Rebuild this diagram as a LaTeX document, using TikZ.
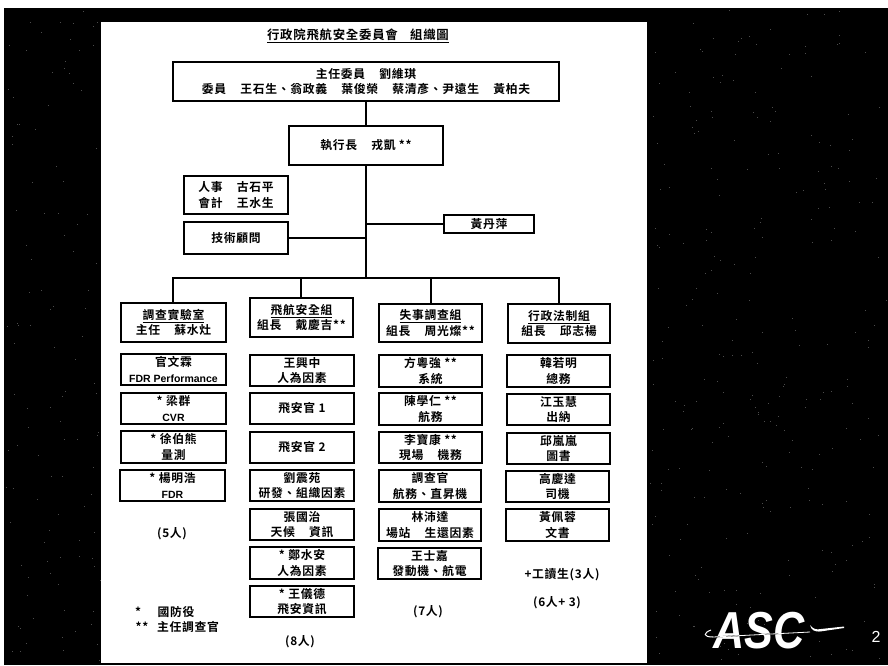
\documentclass[tikz,border=0pt]{standalone}
\usepackage{fontspec}
\setmainfont{Noto Sans CJK TC}[BoldFont={Noto Sans CJK TC Bold}]
\newfontfamily\cjkb[LetterSpace=6]{Noto Sans CJK TC Bold}
\newfontfamily\latinb{Liberation Sans}
\newfontfamily\latinbold{Liberation Sans Bold}
\newfontfamily\logofont{Liberation Sans Bold Italic}
\newcommand{\gp}{\hspace{1.2em}}
\tikzset{
  unit/.style={draw=black,line width=1.1pt,fill=white,align=center,inner sep=0pt,
    font=\fontsize{11.8}{15.4}\selectfont\cjkb},
  free/.style={inner sep=0pt,align=center,font=\fontsize{11.8}{15}\selectfont\cjkb},
  wire/.style={draw=black,line width=1.1pt},
  speck/.style={fill=gray!60!black}
}
\newcommand{\bx}[6]{\node[unit,minimum width={(#3-#1)*1pt},minimum height={(#4-#2)*1pt}] (#5) at ({(#1+#3)/2*1pt},{-(#2+#4)/2*1pt}) {#6};}
\newcommand{\tx}[4]{\node[free] (#1) at (#2pt,-#3pt) {#4};}
\newcommand{\lat}[1]{{\fontsize{10.5}{15.4}\selectfont\latinbold #1}}
\begin{document}
\begin{tikzpicture}[x=1pt,y=1pt]
\useasboundingbox (0,-665) rectangle (888,0);
\fill[white] (0,-665) rectangle (888,0);
\fill[black] (4,-665) rectangle (888,-8);
% scan speckle on the dark background
\pgfmathsetseed{41}
\foreach \i in {1,...,260}{
  \pgfmathsetmacro{\px}{650+236*rnd}
  \pgfmathsetmacro{\py}{10+652*rnd}
  \fill[speck] (\px,-\py) rectangle ++(1,1);
}
\foreach \i in {1,...,110}{
  \pgfmathsetmacro{\px}{5+95*rnd}
  \pgfmathsetmacro{\py}{10+652*rnd}
  \fill[speck] (\px,-\py) rectangle ++(1,1);
}
\fill[white] (101,-663) rectangle (647,-22);
% title
\node[free,font=\fontsize{12.4}{14}\selectfont\cjkb] (title) at (358,-36) {\underline{行政院飛航安全委員會\hspace{1em}組織圖}};
% top
\bx{173}{62}{559}{101}{top}{主任委員\gp 劉維琪\\委員\gp 王石生、翁政義\gp 葉俊榮\gp 蔡清彥、尹遠生\gp 黃柏夫}
\bx{289}{126}{443}{165}{exec}{執行長\gp 戎凱 **}
\bx{184}{176}{288}{214}{hr}{人事\gp 古石平\\會計\gp 王水生}
\bx{184}{222}{288}{254}{tech}{技術顧問}
\bx{444}{215}{534}{233}{huang}{黃丹萍}
\coordinate (jt) at (366,-238);
\coordinate (jh) at (366,-223);
\coordinate (bus) at (366,-278);
\draw[wire] (top.south -| jt) -- (exec.north -| jt);
\draw[wire] (exec.south -| jt) -- (bus);
\draw[wire] (tech.east) -- (tech.east -| jt);
\draw[wire] (huang.west) -- (huang.west -| jh);
% heads
\bx{121}{303}{226}{342}{h1}{\underline{調查實驗室}\\主任\gp 蘇水灶}
\bx{250}{298}{353}{337}{h2}{\underline{飛航安全組}\\組長\gp 戴慶吉**}
\bx{379}{304}{482}{342}{h3}{\underline{失事調查組}\\組長\gp 周光燦**}
\bx{508}{304}{610}{343}{h4}{\underline{行政法制組}\\組長\gp 邱志楊}
\coordinate (b1) at (173,-278);
\coordinate (b2) at (301,-278);
\coordinate (b3) at (431,-278);
\coordinate (b4) at (559,-278);
\draw[wire] (h1.north -| b1) -- (b1) -- (b4) -- (h4.north -| b4);
\draw[wire] (b2) -- (h2.north -| b2);
\draw[wire] (b3) -- (h3.north -| b3);
% col1
\bx{121}{354}{226}{385}{a1}{官文霖\\\lat{FDR Performance}}
\bx{121}{393}{226}{424}{a2}{* 梁群\\\lat{CVR}}
\bx{121}{431}{226}{463}{a3}{* 徐伯熊\\量測}
\bx{120}{470}{225}{501}{a4}{* 楊明浩\\\lat{FDR}}
% col2
\bx{250}{355}{354}{386}{c1}{王興中\\人為因素}
\bx{250}{393}{354}{424}{c2}{飛安官 1}
\bx{250}{432}{354}{463}{c3}{飛安官 2}
\bx{250}{470}{354}{501}{c4}{劉震苑\\研發、組織因素}
\bx{250}{509}{354}{540}{c5}{張國治\\天候\gp 資訊}
\bx{250}{547}{354}{579}{c6}{* 鄭水安\\人為因素}
\bx{250}{586}{354}{617}{c7}{* 王儀德\\飛安資訊}
% col3
\bx{379}{355}{482}{387}{d1}{方粵強 **\\系統}
\bx{379}{393}{482}{425}{d2}{陳學仁 **\\航務}
\bx{379}{432}{482}{463}{d3}{李寶康 **\\現場\gp 機務}
\bx{379}{470}{481}{502}{d4}{調查官\\航務、直昇機}
\bx{379}{509}{481}{541}{d5}{林沛達\\場站\gp 生還因素}
\bx{378}{548}{481}{579}{d6}{王士嘉\\發動機、航電}
% col4
\bx{507}{355}{610}{387}{e1}{韓若明\\總務}
\bx{507}{394}{610}{425}{e2}{江玉慧\\出納}
\bx{507}{433}{610}{464}{e3}{邱嵐嵐\\圖書}
\bx{506}{471}{609}{502}{e4}{高慶達\\司機}
\bx{506}{509}{609}{541}{e5}{黃佩蓉\\文書}
% free texts
\tx{n1}{172}{534}{(5人)}
\tx{n2}{300}{642}{(8人)}
\tx{n3}{428}{612}{(7人)}
\tx{n4}{562}{575}{+工讀生(3人)}
\tx{n5}{557}{603}{(6人+ 3)}
\tx{l1}{138}{612}{*}
\tx{l2}{176}{612}{國防役}
\tx{l3}{142}{627}{**}
\tx{l4}{188}{627}{主任調查官}
% logo
\node[inner sep=0pt,text=white,xscale=0.83,transform shape,font=\fontsize{52}{52}\selectfont\logofont] (logo) at (759,-631) {ASC};
\coordinate (sw1) at (713,-637);
\coordinate (sw2) at (810,-632);
\draw[black,line width=1pt] (sw1) -- (sw2);
\draw[white,line width=1pt] (711,-630) .. controls (703,-633) and (703,-637) .. (713,-637);
\draw[white,line width=0.8pt] (sw1) -- (sw2);
\fill[white] (810,-625) .. controls (813,-629) and (816,-630) .. (821,-629) -- (844,-626.5) -- (844,-628) -- (820,-631.5) .. controls (815,-632) and (811,-630) .. (810,-625) -- cycle;
\node[inner sep=0pt,text=white,font=\fontsize{16}{16}\selectfont\latinb] (pg) at (876,-637) {2};
\end{tikzpicture}
\end{document}
